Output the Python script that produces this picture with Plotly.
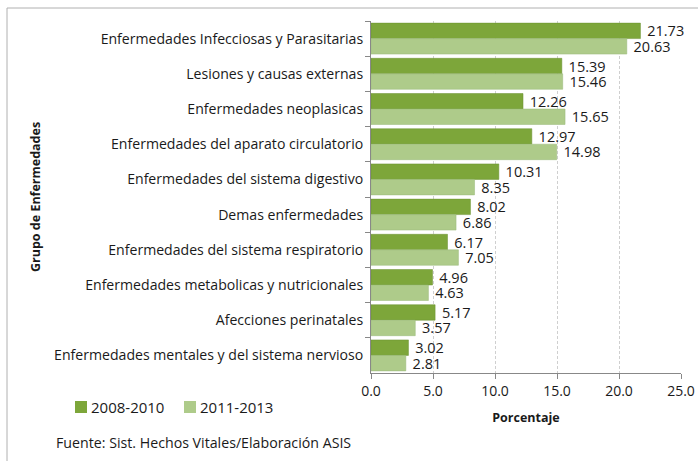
import plotly.graph_objects as go

categories = [
    "Enfermedades Infecciosas y Parasitarias",
    "Lesiones y causas externas",
    "Enfermedades neoplasicas",
    "Enfermedades del aparato circulatorio",
    "Enfermedades del sistema digestivo",
    "Demas enfermedades",
    "Enfermedades del sistema respiratorio",
    "Enfermedades metabolicas y nutricionales",
    "Afecciones perinatales",
    "Enfermedades mentales y del sistema nervioso",
]
series_names = ["2008-2010", "2011-2013"]
serie_2008_2010 = [21.73, 15.39, 12.26, 12.97, 10.31, 8.02, 6.17, 4.96, 5.17, 3.02]
serie_2011_2013 = [20.63, 15.46, 15.65, 14.98, 8.35, 6.86, 7.05, 4.63, 3.57, 2.81]
x_ticks = [0, 5, 10, 15, 20, 25]
x_ticklabels = ["0.0", "5.0", "10.0", "15.0", "20.0", "25.0"]

FONT = "Open Sans"
PW, PH = 310, 352  # plot area size in px
COLORS = ["#7DA63A", "#AECB8A"]
EDGE = ["#6A9030", "#98B878"]

fig = go.Figure()
for name, vals, c, e in zip(series_names, [serie_2008_2010, serie_2011_2013], COLORS, EDGE):
    fig.add_trace(go.Bar(
        y=categories, x=vals, orientation="h", name=name,
        marker=dict(color=c, line=dict(color=e, width=0.5)),
        text=["\u00a0" + f"{v:.2f}" for v in vals], textposition="outside",
        constraintext="none",
        textfont=dict(size=14.5, color="#1a1a1a", family=FONT), cliponaxis=False,
        showlegend=False, hoverinfo="x+y",
    ))

fig.update_layout(
    width=698, height=461,
    margin=dict(l=371, r=17, t=21, b=88, autoexpand=False),
    paper_bgcolor="white", plot_bgcolor="white",
    barmode="group", bargap=0.12, bargroupgap=0,
    font=dict(family=FONT, size=12, color="#1a1a1a"),
    showlegend=False,
)
fig.update_xaxes(
    range=[0, 25], tickvals=x_ticks, ticktext=x_ticklabels,
    showgrid=True, gridcolor="#CFCFCF", griddash="3px,2px", gridwidth=1,
    showline=True, linecolor="#888888", linewidth=1,
    ticks="outside", ticklen=5, tickcolor="#888888",
    tickfont=dict(size=14, family=FONT), zeroline=False,
    title=dict(text="<b>Porcentaje</b>", font=dict(size=12.5, family=FONT), standoff=14),
)
fig.update_yaxes(
    autorange="reversed", showgrid=False,
    showline=True, linecolor="#888888", linewidth=1,
    ticks="outside", ticklen=5, tickcolor="#888888", tickson="boundaries",
    ticklabelstandoff=4,
    tickfont=dict(size=14.1, family=FONT), title=None,
)
# outer chart frame
fig.add_shape(type="rect", xref="paper", yref="paper",
              x0=-(371 - 7) / PW, x1=1.2, y0=-0.5, y1=(373 - 8) / PH,
              line=dict(color="#B0B0B0", width=1), fillcolor="rgba(0,0,0,0)", layer="below")
# legend (custom, to match spacing)
legend_x = [75, 184]
for name, c, lx in zip(series_names, COLORS, legend_x):
    fig.add_shape(type="rect", xref="paper", yref="paper",
                  x0=-(371 - lx) / PW, x1=-(371 - lx - 12) / PW,
                  y0=-(413 - 373) / PH, y1=-(401 - 373) / PH,
                  fillcolor=c, line=dict(width=0))
    fig.add_annotation(text=name, xref="paper", yref="paper",
                       x=-(371 - lx - 14) / PW, xanchor="left",
                       y=-(407 - 373) / PH, yanchor="middle", showarrow=False,
                       font=dict(size=15, family=FONT, color="#1a1a1a"))
fig.add_annotation(text="Fuente: Sist. Hechos Vitales/Elaboración ASIS",
                   xref="paper", yref="paper", x=-(371 - 54) / PW, xanchor="left",
                   y=-(443 - 373) / PH, yanchor="middle", showarrow=False,
                   font=dict(size=14.2, family=FONT, color="#1a1a1a"))
fig.add_annotation(text="<b>Grupo de Enfermedades</b>", textangle=-90,
                   xref="paper", yref="paper", x=-(371 - 35) / PW, xanchor="center",
                   y=0.5, yanchor="middle", showarrow=False,
                   font=dict(size=12.5, family=FONT, color="#1a1a1a"))

fig.write_html("out.html", config={"displayModeBar": False},
               post_script="document.body.style.margin='0';document.body.style.overflow='hidden';")
